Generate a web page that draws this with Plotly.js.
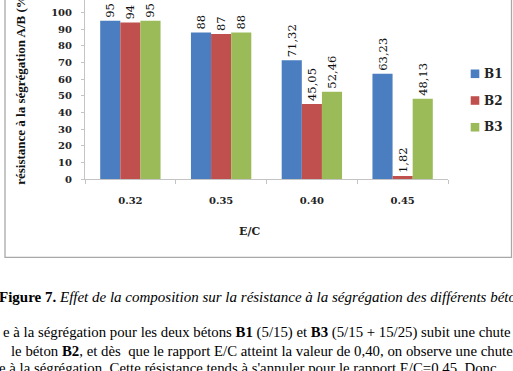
<!DOCTYPE html>
<html>
<head>
<meta charset="utf-8">
<script src="https://cdn.plot.ly/plotly-3.0.1.min.js"></script>
<style>
html,body{margin:0;padding:0;background:#fff;overflow:hidden;}
#chart{width:513px;height:371px;}
</style>
</head>
<body>
<div id="chart"></div>
<script>
// ---- data ----
const categories = ['0.32', '0.35', '0.40', '0.45'];
const seriesNames = ['B1', 'B2', 'B3'];
const valuesB1 = [95, 88, 71.32, 63.23];
const valuesB2 = [94, 87, 45.05, 1.82];
const valuesB3 = [95, 88, 52.46, 48.13];
const yTickValues = [0, 10, 20, 30, 40, 50, 60, 70, 80, 90, 100];
const xTitle = 'E/C';
const yTitle = 'résistance à la ségrégation A/B (%)';
const captionTitle = '<b>Figure 7.</b> <i>Effet de la composition sur la résistance à la ségrégation des différents bétons</i>';
const bodyLines = [
  'e à la ségrégation pour les deux bétons <b>B1</b> (5/15) et <b>B3</b> (5/15 + 15/25) subit une chute',
  'le béton <b>B2</b>, et dès  que le rapport E/C atteint la valeur de 0,40, on observe une chute',
  'e à la ségrégation. Cette résistance tends à s\'annuler pour le rapport E/C=0,45. Donc'
];

// ---- style ----
const colors = ['#4A7EC0', '#C0504D', '#9BBB59'];
const W = 513, H = 371;
const L = 85, R = 448, T = 0, B = 179.5;
const px = x => (x - L) / (R - L);
const py = y => (B - y) / (B - T);
const fmt = v => Number.isInteger(v) ? String(v) : v.toFixed(2).replace('.', ',');

const allSeries = [valuesB1, valuesB2, valuesB3];
const traces = allSeries.map((vals, i) => ({
  type: 'bar',
  name: seriesNames[i],
  x: categories,
  y: vals,
  text: vals.map(fmt),
  textposition: 'outside',
  textangle: -90,
  constraintext: 'none',
  cliponaxis: false,
  textfont: {family: 'DejaVu Serif', size: 11.5, color: '#111'},
  marker: {color: colors[i]},
  hoverinfo: 'none'
}));

const shapes = [];
const annotations = [];
// frame
shapes.push({type: 'rect', xref: 'paper', yref: 'paper', x0: px(5), x1: px(511.5), y0: py(258), y1: py(-5),
  line: {color: '#a8a8a8', width: 1.3}, fillcolor: 'rgba(0,0,0,0)'});
// legend
seriesNames.forEach((n, i) => {
  const cy = 74 + i * 26.8;
  shapes.push({type: 'rect', xref: 'paper', yref: 'paper', x0: px(470.7), x1: px(479.3), y0: py(cy + 4.3), y1: py(cy - 4.3),
    line: {width: 0}, fillcolor: colors[i]});
  annotations.push({xref: 'paper', yref: 'paper', x: px(482), y: py(cy), xanchor: 'left', yanchor: 'middle',
    text: '<b>' + n + '</b>', showarrow: false, font: {family: 'DejaVu Serif', size: 12, color: '#222'}});
});
// axis titles
annotations.push({xref: 'paper', yref: 'paper', x: px(20.5), y: py(88.5), xanchor: 'center', yanchor: 'middle',
  textangle: -90, text: '<b>' + yTitle + '</b>', showarrow: false,
  font: {family: 'Liberation Serif', size: 13, color: '#111'}});
annotations.push({xref: 'paper', yref: 'paper', x: px(249), y: py(232), xanchor: 'center', yanchor: 'middle',
  text: '<b>' + xTitle + '</b>', showarrow: false,
  font: {family: 'DejaVu Serif', size: 11, color: '#222'}});
// caption
annotations.push({xref: 'paper', yref: 'paper', x: px(-3), y: py(297.7), xanchor: 'left', yanchor: 'middle',
  text: captionTitle, showarrow: false, font: {family: 'Liberation Serif', size: 15, color: '#000'}});
const lineStarts = [1, 9, -2.7];
const lineYs = [333, 351.5, 369];
bodyLines.forEach((t, i) => {
  annotations.push({xref: 'paper', yref: 'paper', x: px(lineStarts[i]), y: py(lineYs[i]), xanchor: 'left', yanchor: 'middle',
    text: t, showarrow: false, font: {family: 'Liberation Serif', size: 14.8, color: '#000'}});
});

const layout = {
  width: W, height: H,
  margin: {l: L, r: W - R, t: T, b: H - B, pad: 0},
  paper_bgcolor: '#fff', plot_bgcolor: '#fff',
  barmode: 'group', bargap: 0.335, bargroupgap: 0,
  showlegend: false,
  xaxis: {type: 'category', showgrid: false, zeroline: false, showline: true, linecolor: '#c4c4c4', linewidth: 1,
    ticks: 'outside', tickson: 'boundaries', ticklen: 4, tickcolor: '#c4c4c4', ticklabelstandoff: 12,
    tickfont: {family: 'DejaVu Serif', size: 10, color: '#222', weight: 'bold'}, automargin: false, fixedrange: true},
  yaxis: {range: [0, 100 * (B - T) / (B - 12.5)], tickvals: yTickValues, showgrid: false, zeroline: false,
    showline: true, linecolor: '#c4c4c4', linewidth: 1, ticks: 'outside', ticklen: 3, tickcolor: '#c4c4c4',
    ticklabelstandoff: 7, tickfont: {family: 'DejaVu Serif', size: 10, color: '#222', weight: 'bold'}, automargin: false, fixedrange: true},
  shapes: shapes,
  annotations: annotations
};

Plotly.newPlot('chart', traces, layout, {displayModeBar: false, staticPlot: true});
</script>
</body>
</html>
